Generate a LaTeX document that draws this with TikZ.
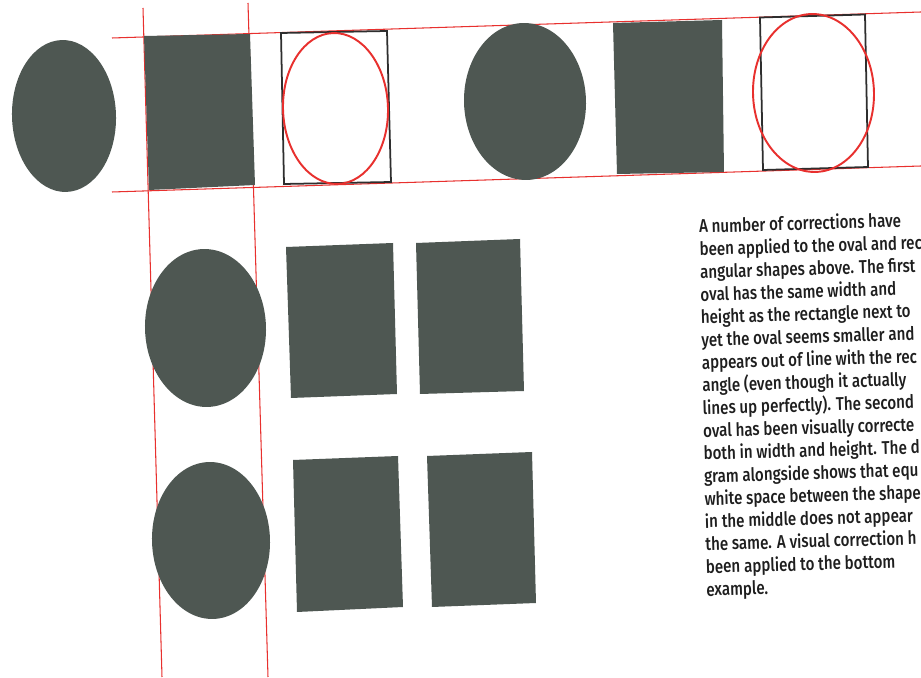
\documentclass[tikz,border=0pt]{standalone}
\usepackage{fontspec}
\setmainfont{Fira Sans}[FakeStretch=0.82, UprightFont=* Medium]
\definecolor{shapegray}{HTML}{4E5752}
\definecolor{guidered}{HTML}{E8302E}
\definecolor{framegray}{HTML}{2E2E2E}
\definecolor{textgray}{HTML}{1E1E1E}
\begin{document}
\begin{tikzpicture}[x=0.02cm,y=-0.02cm,
  shapefill/.style={fill=shapegray},
  guide/.style={draw=guidered, line width=0.6pt},
  redoval/.style={draw=guidered, line width=1.1pt},
  frame/.style={draw=framegray, line width=1pt},
  body/.style={font=\fontsize{10.5}{12}\selectfont, anchor=base west, inner sep=0pt, text=textgray, rotate=1.7}]
\useasboundingbox (0,0) rectangle (921,678);
\fill[white] (0,0) rectangle (921,678);
% guide lines
\coordinate (hTl) at (112,38);  \coordinate (hTr) at (921,12);
\coordinate (hBl) at (112,192); \coordinate (hBr) at (921,166);
\coordinate (vLt) at (143,8);   \coordinate (vLb) at (162,677);
\coordinate (vRt) at (248,3);   \coordinate (vRb) at (268,677);
\draw[guide] (hTl) -- (hTr);
\draw[guide] (hBl) -- (hBr);
\draw[guide] (vLt) -- (vLb);
\draw[guide] (vRt) -- (vRb);
% top row
\fill[shapefill, rotate around={1.8:(64,116)}] (64,116) ellipse [x radius=1.04cm, y radius=1.52cm];
\fill[shapefill] (144,36) -- (250,34) -- (255,185) -- (149,190) -- cycle;
\filldraw[fill=white, frame] (281,33) -- (387,31) -- (391,182) -- (284,184) -- cycle;
\draw[redoval, rotate around={1.8:(335.5,108.5)}] (335.5,108.5) ellipse [x radius=1.05cm, y radius=1.51cm];
\fill[shapefill, rotate around={1.8:(525,101.5)}] (525,101.5) ellipse [x radius=1.22cm, y radius=1.57cm];
\fill[shapefill] (613,23) -- (722,20) -- (724,172) -- (617,174) -- cycle;
\filldraw[fill=white, frame] (760,17.5) -- (865,14.5) -- (868,167) -- (763,170) -- cycle;
\draw[redoval, rotate around={1.8:(813.5,93)}] (813.5,93) ellipse [x radius=1.21cm, y radius=1.58cm];
% bottom group
\fill[shapefill, rotate around={1.8:(205.5,328)}] (205.5,328) ellipse [x radius=1.21cm, y radius=1.58cm];
\fill[shapefill, rotate around={1.8:(211,540.5)}] (211,540.5) ellipse [x radius=1.18cm, y radius=1.57cm];
\fill[shapefill] (286,247) -- (393,243) -- (397,394) -- (291,398) -- cycle;
\fill[shapefill] (416,243) -- (520,239) -- (524,391) -- (420,394) -- cycle;
\fill[shapefill] (293,460) -- (398,456) -- (403,607) -- (297,612) -- cycle;
\fill[shapefill] (427,456) -- (532,452) -- (536,603) -- (432,607) -- cycle;
% text
\foreach \t [count=\i] in {{A number of corrections have},{been applied to the oval and rec},{angular shapes above. The first},{oval has the same width and},{height as the rectangle next to},{yet the oval seems smaller and},{appears out of line with the rec},{angle (even though it actually},{lines up perfectly). The second},{oval has been visually correcte},{both in width and height. The d},{gram alongside shows that equ},{white space between the shape},{in the middle does not appear},{the same. A visual correction h},{been applied to the bottom},{example.}}
  \node[body] (t\i) at ({699+0.45*(\i-1)},{233+22.7*(\i-1)}) {\t};
\end{tikzpicture}
\end{document}
